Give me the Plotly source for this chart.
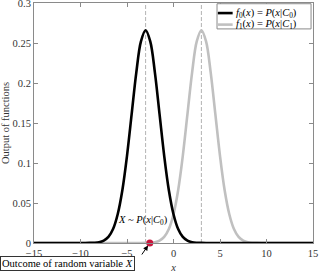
import plotly.graph_objects as go

# x grid (step 0.5)
x_vals = [i * 0.5 for i in range(-30, 31)]

# f0 (peak at x=-3)
f0_vals = [0]*12 + [0.0001, 0.0003, 0.001, 0.003, 0.0076, 0.0175, 0.036, 0.066, 0.109, 0.161,
                    0.213, 0.252, 0.266, 0.252, 0.213, 0.161, 0.109, 0.066, 0.036, 0.0175,
                    0.0076, 0.003, 0.001, 0.0003, 0.0001] + [0]*24
# f1 (peak at x=3)
f1_vals = [0]*24 + [0.0001, 0.0003, 0.001, 0.003, 0.0076, 0.0175, 0.036, 0.066, 0.109, 0.161,
                    0.213, 0.252, 0.266, 0.252, 0.213, 0.161, 0.109, 0.066, 0.036, 0.0175,
                    0.0076, 0.003, 0.001, 0.0003, 0.0001] + [0]*12

means = [-3, 3]
outcome_x = [-2.55]
outcome_y = [0]

x_ticks = [-15, -10, -5, 0, 5, 10, 15]
y_ticks = [0, 0.05, 0.1, 0.15, 0.2, 0.25, 0.3]
y_ticklabels = ["0", "0.05", "0.1", "0.15", "0.2", "0.25", "0.3"]

FONT = "Liberation Serif"
AXC = "#8a8a8a"
TXT = "#333333"
FS = 10.5

fig = go.Figure()
fig.add_trace(go.Scatter(x=x_vals, y=f1_vals, mode="lines", line=dict(color="#c0c0c0", width=2.6, shape="spline"),
                         showlegend=False, hoverinfo="skip"))
fig.add_trace(go.Scatter(x=x_vals, y=f0_vals, mode="lines", line=dict(color="black", width=2.6, shape="spline"),
                         showlegend=False, hoverinfo="skip"))
fig.add_trace(go.Scatter(x=outcome_x, y=outcome_y, mode="markers", cliponaxis=False,
                         marker=dict(color="#c8163c", size=7, line=dict(width=0)), showlegend=False))

for m in means:
    fig.add_shape(type="line", x0=m, x1=m, y0=0, y1=0.3, xref="x", yref="y",
                  line=dict(color="#a0a0a0", width=0.8, dash="4px,2px"), layer="below")

# manual legend
fig.add_shape(type="rect", xref="paper", yref="paper", x0=0.656, x1=0.993, y0=0.892, y1=0.997,
              line=dict(color=AXC, width=1), fillcolor="white")
fig.add_shape(type="line", xref="paper", yref="paper", x0=0.659, x1=0.712, y0=0.958, y1=0.958,
              line=dict(color="black", width=2.6))
fig.add_shape(type="line", xref="paper", yref="paper", x0=0.659, x1=0.712, y0=0.910, y1=0.910,
              line=dict(color="#c0c0c0", width=2.6))
fig.add_annotation(xref="paper", yref="paper", x=0.716, y=0.958, xanchor="left", yanchor="middle", showarrow=False,
                   text="<i>f</i><sub>0</sub>(<i>x</i>) = <i>P</i>(<i>x</i>|<i>C</i><sub>0</sub>)",
                   font=dict(family=FONT, size=FS, color="black"))
fig.add_annotation(xref="paper", yref="paper", x=0.716, y=0.910, xanchor="left", yanchor="middle", showarrow=False,
                   text="<i>f</i><sub>1</sub>(<i>x</i>) = <i>P</i>(<i>x</i>|<i>C</i><sub>1</sub>)",
                   font=dict(family=FONT, size=FS, color="black"))

fig.add_annotation(x=-3.3, y=0.018, xref="x", yref="y", showarrow=False, yanchor="bottom",
                   text="<i>X</i> ~ <i>P</i>(<i>x</i>|<i>C</i><sub>0</sub>)",
                   font=dict(family=FONT, size=FS, color="black"))

# arrow to the outcome point
fig.add_annotation(x=outcome_x[0], y=0, xref="x", yref="y", ax=-9, ay=13,
                   showarrow=True, arrowhead=2, arrowsize=1, arrowwidth=1, arrowcolor="black",
                   standoff=3, text="")
# label box
fig.add_annotation(xref="paper", yref="paper", x=-0.121, y=-0.053, xanchor="left", yanchor="top",
                   showarrow=False, text="Outcome of random variable <i>X</i>",
                   bordercolor="#333333", borderwidth=1, borderpad=1, bgcolor="white",
                   font=dict(family=FONT, size=FS, color="black"))

fig.update_layout(
    width=319, height=277,
    margin=dict(l=34, r=6, t=3, b=34, autoexpand=False),
    plot_bgcolor="white", paper_bgcolor="white",
    font=dict(family=FONT, size=FS, color=TXT),
    xaxis=dict(range=[-15, 15], tickvals=x_ticks, ticks="inside", ticklen=4, tickcolor=AXC,
               showline=True, linecolor=AXC, linewidth=1, mirror="ticks", showgrid=False, zeroline=False,
               ticklabeloverflow="allow", automargin=False,
               title=dict(text="<i>x</i>", font=dict(family=FONT, size=FS, color=TXT), standoff=6),
               tickfont=dict(family=FONT, size=FS, color=TXT)),
    yaxis=dict(range=[0, 0.3], tickvals=y_ticks, ticktext=y_ticklabels, ticks="inside", ticklen=4, tickcolor=AXC,
               showline=True, linecolor=AXC, linewidth=1, mirror="ticks", showgrid=False, zeroline=False,
               ticklabeloverflow="allow", automargin=False,
               title=dict(text="Output of functions", font=dict(family=FONT, size=FS, color=TXT), standoff=2),
               tickfont=dict(family=FONT, size=FS, color=TXT)),
)

fig.write_html("out.html", config={"displayModeBar": False},
               post_script="document.body.style.margin='0';document.body.style.overflow='hidden';")
